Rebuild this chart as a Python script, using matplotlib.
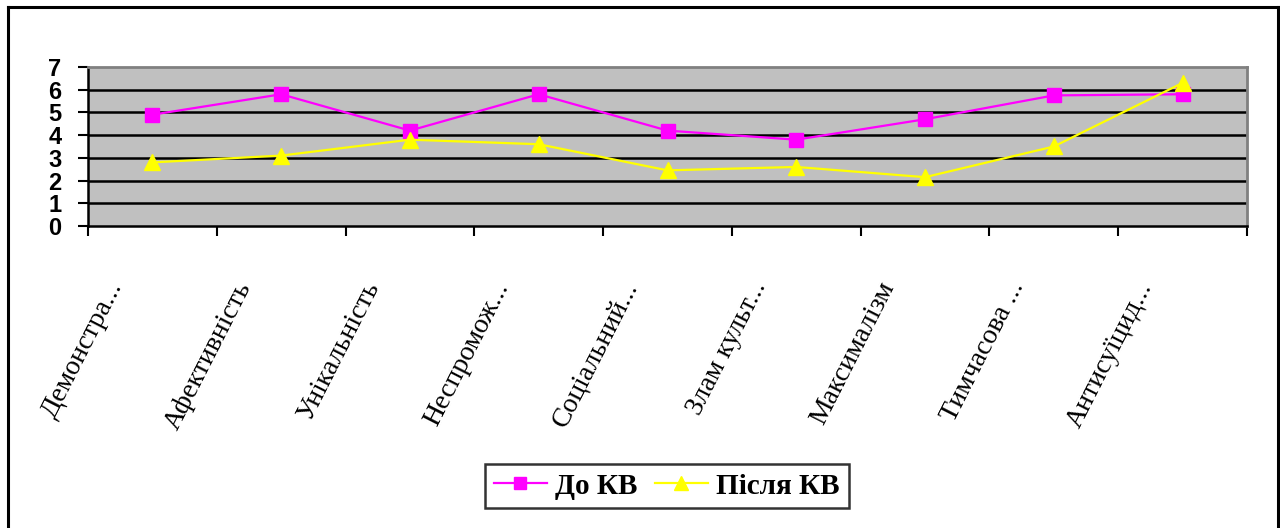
import numpy as np
import matplotlib
matplotlib.use("Agg")
import matplotlib.pyplot as plt
import matplotlib.transforms as mtransforms
from matplotlib.lines import Line2D

categories = ["Демонстра...", "Афективність", "Унікальність", "Неспромож...",
              "Соціальний...", "Злам культ...", "Максималізм", "Тимчасова ...",
              "Антисуїцид..."]
before_kv = [4.9, 5.8, 4.2, 5.8, 4.2, 3.8, 4.7, 5.75, 5.8]
after_kv = [2.8, 3.1, 3.8, 3.6, 2.45, 2.6, 2.15, 3.5, 6.3]
series_names = ["До КВ", "Після КВ"]
yticks = [0, 1, 2, 3, 4, 5, 6, 7]

W, H = 1280, 528
fig = plt.figure(figsize=(W / 100, H / 100), dpi=100)

# outer frame of the chart object (bottom edge is cut off in the original)
for xs, ys in [([8, 8], [0, H - 7]), ([8, 1278], [H - 7, H - 7]), ([1278, 1278], [H - 7, 0])]:
    fig.add_artist(Line2D(np.array(xs) / W, np.array(ys) / H, color="black", lw=2.2,
                          transform=fig.transFigure))

left, right, top, bottom = 88, 1247, 67, 226
ax = fig.add_axes([left / W, (H - bottom) / H, (right - left) / W, (bottom - top) / H])
ax.set_facecolor("#c0c0c0")

x = np.arange(len(categories))
ax.set_xlim(-0.5, len(categories) - 0.5)
ax.set_ylim(0, 7)

for y in yticks[1:-1]:
    ax.axhline(y, color="black", lw=1.8, zorder=1)

ax.plot(x, before_kv, color="#ff00ff", lw=1.6, marker="s", markersize=10,
        markerfacecolor="#ff00ff", markeredgecolor="#ff00ff", label=series_names[0], zorder=3)
ax.plot(x, after_kv, color="#ffff00", lw=1.6, marker="^", markersize=11,
        markerfacecolor="#ffff00", markeredgecolor="#ffff00", label=series_names[1], zorder=3)

for side in ["top", "right"]:
    ax.spines[side].set_color("#808080")
    ax.spines[side].set_linewidth(2)
for side in ["left", "bottom"]:
    ax.spines[side].set_color("black")
    ax.spines[side].set_linewidth(1.8)

ax.set_yticks(yticks)
ax.set_yticklabels([str(v) for v in yticks], fontfamily="Liberation Sans",
                   fontweight="bold", fontsize=17)
ax.tick_params(axis="y", direction="out", length=7, width=1.5, pad=12)

ax.set_xticks(x)
ax.set_xticks(np.arange(-0.5, len(categories)), minor=True)
ax.tick_params(axis="x", which="major", length=0, pad=41)
ax.tick_params(axis="x", which="minor", direction="out", length=7, width=1.5)
labels = ax.set_xticklabels(categories, fontfamily="Liberation Serif", fontsize=20,
                            rotation=63, ha="right", va="center", rotation_mode="anchor")
shift = mtransforms.ScaledTranslation(-36 / 100, 0, fig.dpi_scale_trans)
for lab in labels:
    lab.set_transform(lab.get_transform() + shift)

leg = fig.legend(loc="center", bbox_to_anchor=(667 / W, (H - 486) / H),
                 ncol=2, frameon=True, fancybox=False, handlelength=1.8,
                 handletextpad=0.3, columnspacing=0.6, borderpad=0.3,
                 borderaxespad=0, markerscale=0.9,
                 prop={"family": "Liberation Serif", "weight": "bold", "size": 21})
leg.get_frame().set_edgecolor("black")
leg.get_frame().set_linewidth(1.8)

fig.savefig("out.png", dpi=100)
